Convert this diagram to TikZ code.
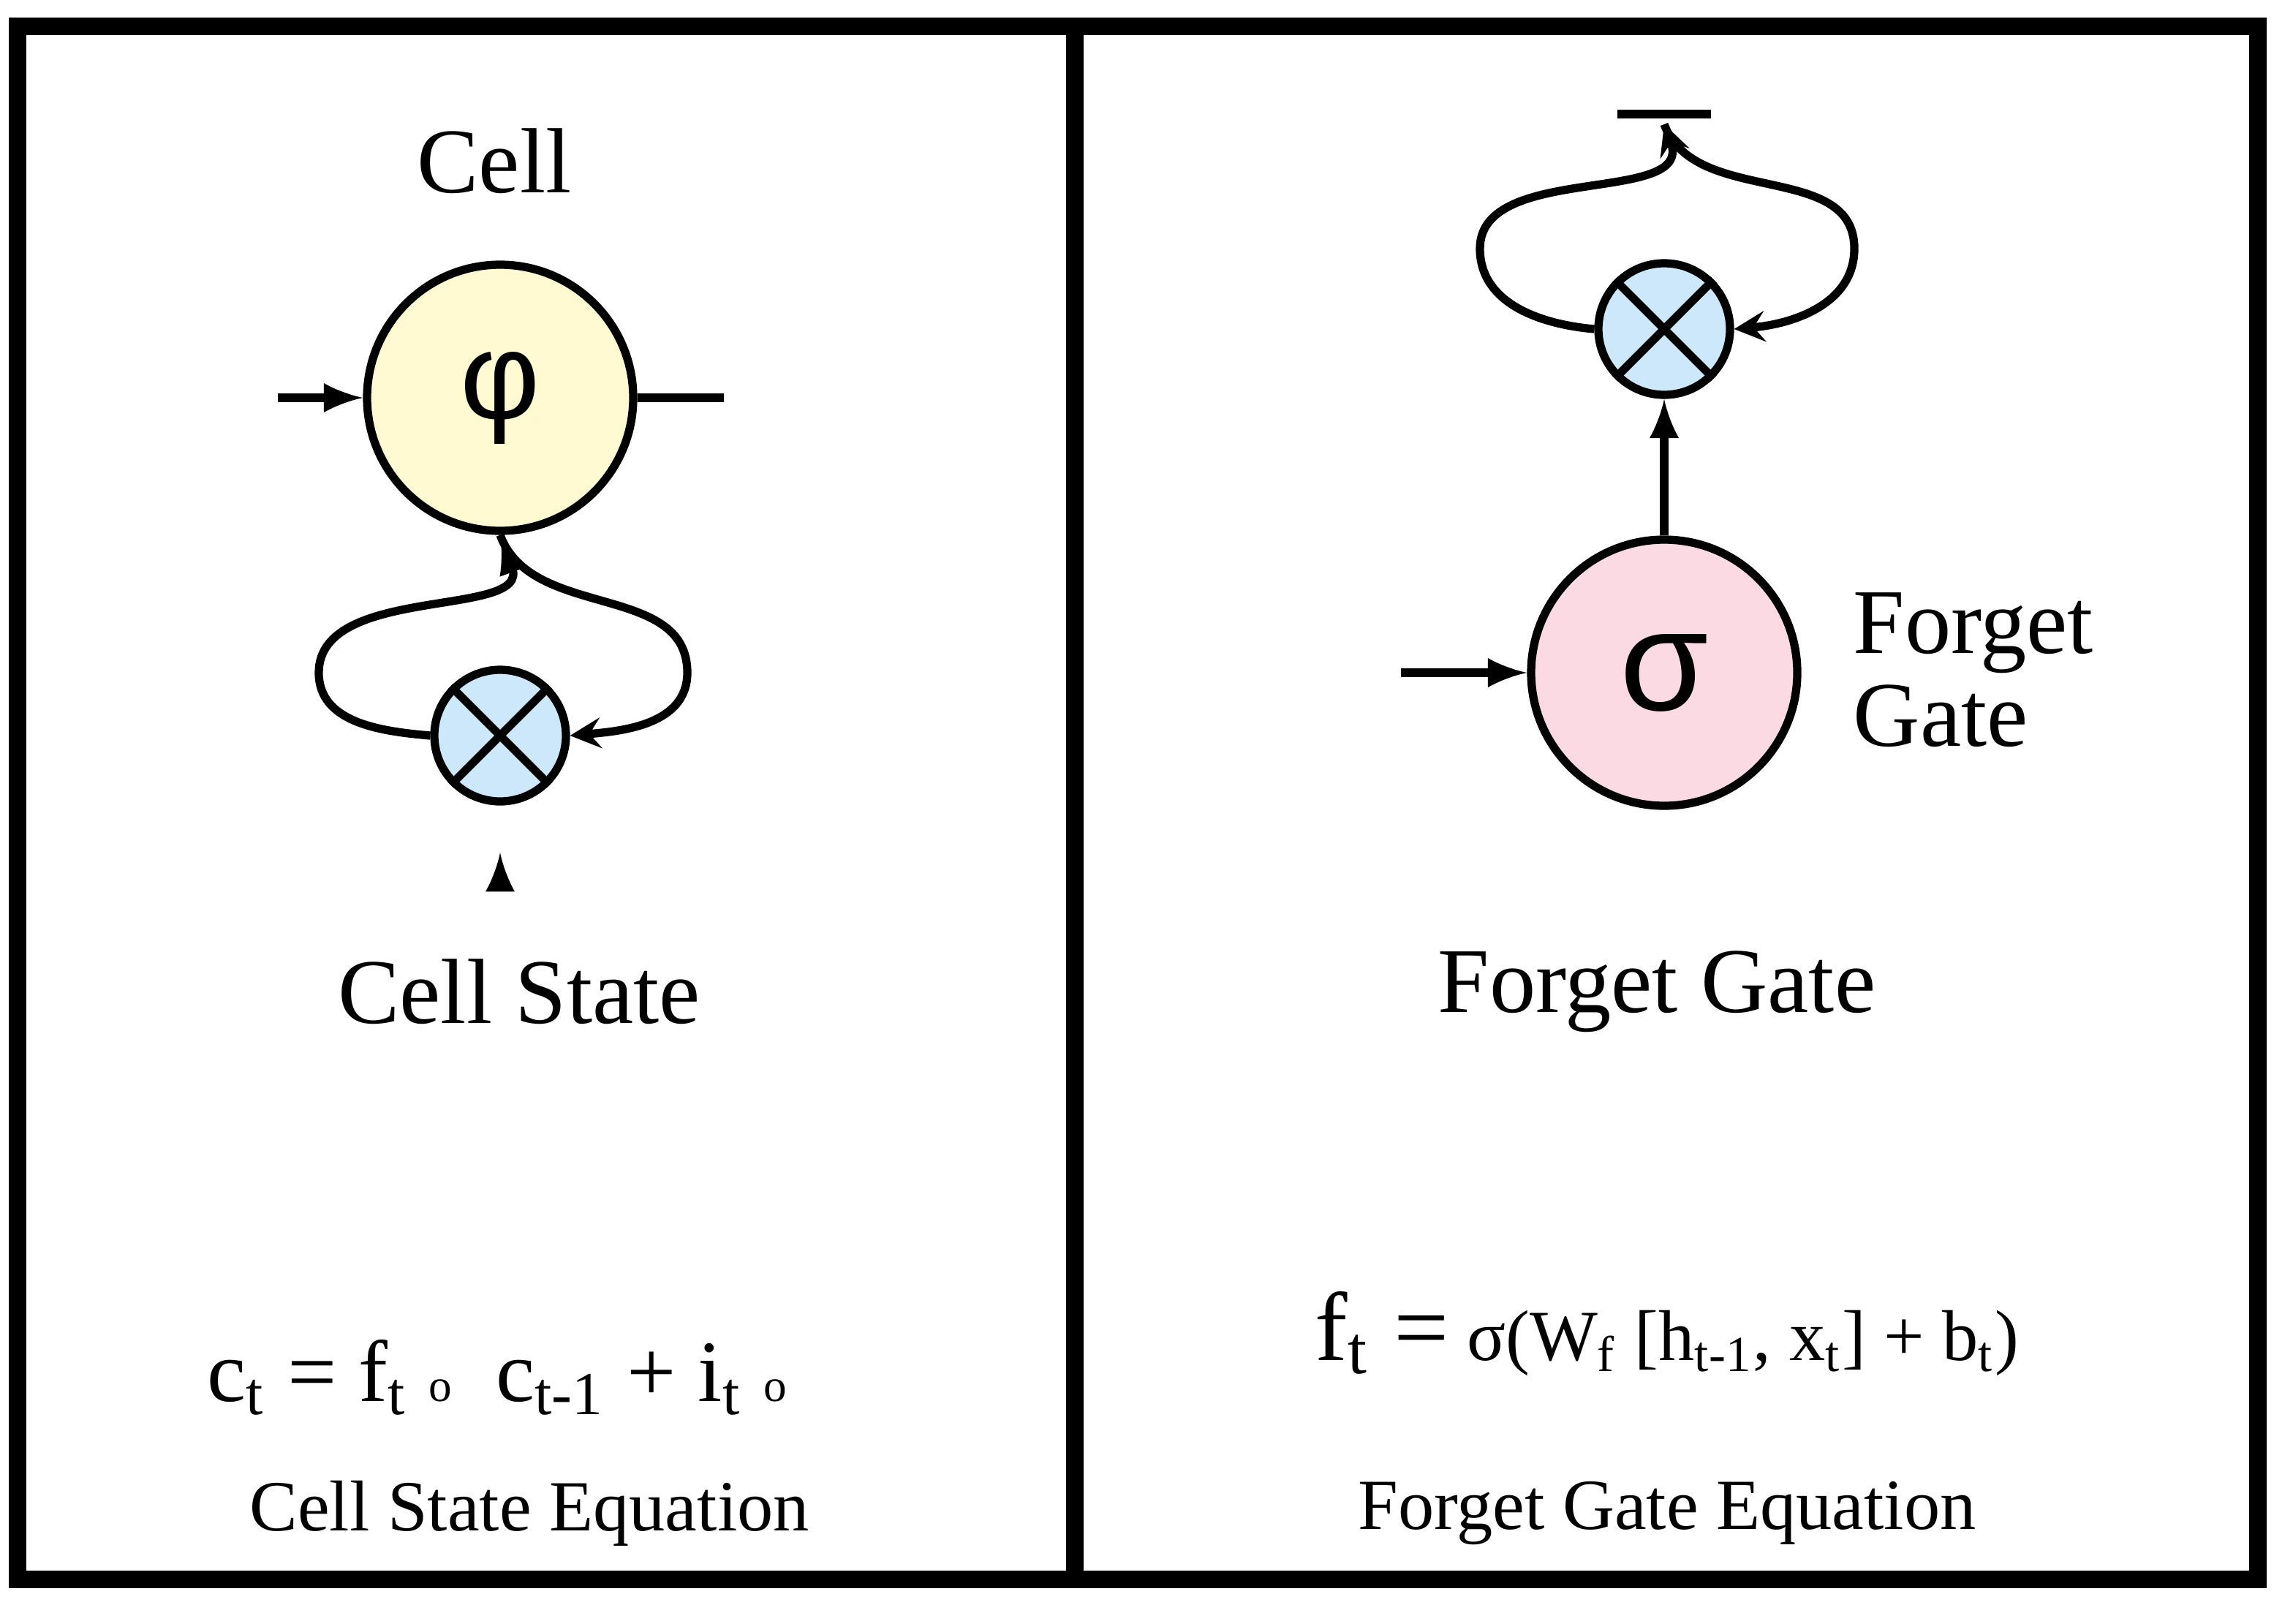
\documentclass[tikz,border=0pt]{standalone}
\usepackage{fontspec}
\setmainfont{Liberation Serif}
\newfontfamily\symfont{Liberation Sans}
\usetikzlibrary{calc}
\definecolor{mulblue}{RGB}{204,232,250}
\definecolor{phiyel}{RGB}{255,250,210}
\definecolor{sigpink}{RGB}{252,218,228}

\begin{document}
\begin{tikzpicture}[
    op/.style={circle, draw, line width=1.6pt, minimum size=0.9cm, inner sep=0pt, fill=mulblue},
    act/.style={circle, draw, line width=1.6pt, minimum size=1.82cm, inner sep=0pt},
    wire/.style={line width=1.6pt},
    big/.style={font=\fontsize{18}{22}\selectfont},
    small/.style={font=\fontsize{14}{17}\selectfont}]
            \useasboundingbox (0,0) rectangle (15.68,11.10);
            \draw[line width=3.4pt] (0.12,0.30) rectangle (15.44,10.92);
            \draw[line width=3.4pt] (7.35,0.30) -- (7.35,10.92);
            % cell state
            \node[big] (cell) at (3.38,10.0) {Cell};
            \node[act, fill=phiyel] (phi) at (3.42,8.38) {\symfont\fontsize{24}{24}\selectfont φ};
            \node[op] (mulc) at (3.42,6.07) {};
            \draw[line width=1.6pt] (mulc.north west) -- (mulc.south east);
            \draw[line width=1.6pt] (mulc.north east) -- (mulc.south west);
            \coordinate (phiin) at (1.90,8.38);
            \coordinate (phiout) at (4.95,8.38);
            \coordinate (mulcin) at (3.42,5.15);
            \draw[wire, -latex] (phiin) -- (phi.west);
            \draw[wire] (phi.east) -- (phiout);
            \draw[wire, -latex] (mulc.west) to[out=175, in=-90] (2.18,6.50) to[out=90, in=-70] (phi.south);
            \draw[wire, -stealth] (phi.south) to[out=-70, in=90] (4.70,6.50) to[out=-90, in=5] (mulc.east);
            \draw[wire, -latex] (mulcin) -- ++(0,0.12);
            \node[big] (cellst) at (3.55,4.32) {Cell State};
            \node[font=\fontsize{17}{20}\selectfont] (cellq) at (3.40,1.68) {c\textsubscript{t} = f\textsubscript{t} {\small o}\ \ c\textsubscript{t-1} + i\textsubscript{t} {\small o}};
            \node[small] (cellqt) at (3.62,0.75) {Cell State Equation};
            % forget gate
            \node[act, fill=sigpink] (sig) at (11.38,6.50) {\symfont\fontsize{28}{28}\selectfont σ};
            \node[big, align=left, anchor=west] (fglab) at (12.55,6.52) {Forget\\[-4pt]Gate};
            \node[op] (mulf) at (11.38,8.85) {};
            \draw[line width=1.6pt] (mulf.north west) -- (mulf.south east);
            \draw[line width=1.6pt] (mulf.north east) -- (mulf.south west);
            \coordinate (sigin) at (9.58,6.50);
            \coordinate (top) at (11.38,10.25);
            \draw[wire, -latex] (sigin) -- (sig.west);
            \draw[wire, -latex] (sig.north) -- (mulf.south);
            \draw[wire, -stealth] (mulf.west) to[out=175, in=-90] (10.12,9.40) to[out=90, in=-70] (top);
            \draw[wire, -stealth] (top) to[out=-70, in=90] (12.68,9.40) to[out=-90, in=5] (mulf.east);
            \draw[wire] ($(top)+(-0.32,0.07)$) -- ($(top)+(0.32,0.07)$);
            \node[big] (fg) at (11.33,4.32) {Forget Gate};
            \node[font=\fontsize{14}{17}\selectfont] (fgq) at (11.40,1.98) {{\fontsize{19}{22}\selectfont f\textsubscript{t} =} σ(W\textsubscript{f} [h\textsubscript{t-1}, x\textsubscript{t}] + b\textsubscript{t})};
            \node[small] (fgqt) at (11.40,0.75) {Forget Gate Equation};
        \end{tikzpicture}
\end{document}
